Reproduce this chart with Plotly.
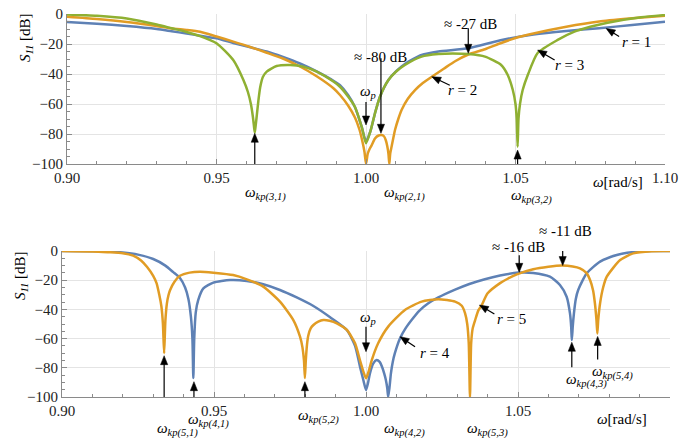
import math
import plotly.graph_objects as go

# ---------------- data ----------------
# top panel: r = 1 (blue)
t1_w = [0.900,0.910,0.920,0.930,0.935,0.940,0.9445,0.950,0.9556,0.9610,0.9668,0.9720,0.9779,0.9835,0.9891,0.9913,0.9940,0.9963,0.9986,1.0000,1.0015,1.0030,1.0047,1.0075,1.0100,1.0130,1.0186,1.0242,1.0342,1.0450,1.0560,1.0670,1.0780,1.0890,1.1000]
t1_db = [-5.3,-6.5,-8.0,-10.0,-11.5,-13.0,-14.5,-16.2,-19.3,-22.0,-25.0,-28.5,-33.0,-38.3,-44.5,-47.5,-54.0,-62.0,-75.5,-85.0,-78.0,-66.2,-55.0,-44.0,-38.3,-33.3,-27.3,-25.0,-22.9,-17.5,-13.7,-11.3,-9.5,-7.3,-5.1]

# top panel: r = 2 (orange)
t2_w = [0.900,0.910,0.920,0.930,0.935,0.940,0.9445,0.950,0.9556,0.9610,0.9668,0.9720,0.9779,0.9835,0.9891,0.9913,0.9940,0.9963,0.9978,0.9988,0.9995,1.0000,1.0006,1.0012,1.0019,1.0030,1.0042,1.0052,1.0060,1.0066,1.0071,1.0075,1.0078,1.0081,1.0086,1.0092,1.0097,1.0108,1.0119,1.0140,1.0164,1.0190,1.0220,1.0260,1.0298,1.0342,1.0398,1.0450,1.0500,1.0560,1.0670,1.0780,1.0890,1.1000]
t2_db = [-1.8,-3.3,-5.3,-8.0,-9.6,-10.6,-11.8,-15.0,-18.4,-21.8,-25.8,-29.5,-35.0,-41.5,-49.5,-54.0,-61.0,-69.0,-77.0,-85.0,-92.0,-100.0,-93.0,-90.0,-87.5,-83.0,-81.0,-80.7,-81.5,-84.0,-88.0,-93.0,-100.0,-93.0,-88.0,-82.0,-77.3,-70.0,-64.0,-56.5,-50.7,-46.0,-41.8,-36.5,-31.5,-27.0,-23.5,-19.5,-16.0,-13.0,-8.5,-5.0,-2.9,-1.1]

# top panel: r = 3 (green)
t3_w = [0.900,0.910,0.920,0.930,0.935,0.940,0.9445,0.950,0.9556,0.9590,0.9605,0.9615,0.9622,0.9626,0.9628,0.9630,0.9634,0.9640,0.9646,0.9655,0.9668,0.9701,0.9746,0.9790,0.9835,0.9891,0.9913,0.9940,0.9963,0.9986,1.0000,1.0015,1.0030,1.0047,1.0075,1.0100,1.0130,1.0186,1.0242,1.0290,1.0342,1.0398,1.0452,1.0474,1.0491,1.0500,1.0504,1.0507,1.0510,1.0515,1.0524,1.0541,1.0574,1.0641,1.0697,1.0750,1.0808,1.0920,1.1000]
t3_db = [-0.3,-1.2,-3.0,-7.0,-9.5,-12.0,-14.8,-19.5,-30.7,-44.0,-52.0,-60.0,-69.0,-76.0,-79.0,-76.0,-69.0,-58.0,-49.0,-42.0,-38.4,-34.7,-34.0,-35.1,-38.4,-45.0,-48.5,-55.0,-62.0,-75.5,-86.2,-78.0,-66.2,-55.0,-44.0,-38.5,-34.0,-28.4,-26.7,-26.3,-26.7,-28.4,-34.0,-40.7,-50.7,-60.0,-70.0,-88.5,-70.0,-60.0,-50.7,-40.7,-26.0,-17.3,-11.8,-8.5,-5.8,-2.2,-0.7]

# bottom panel: r = 4 (blue)
b4_w = [0.900,0.910,0.915,0.920,0.925,0.930,0.934,0.9366,0.9388,0.9405,0.9416,0.9424,0.9429,0.9432,0.9435,0.9440,0.9448,0.9465,0.9498,0.9553,0.9608,0.9662,0.9717,0.9772,0.9827,0.9882,0.9937,0.9964,0.9980,0.9992,1.0000,1.0007,1.0013,1.0024,1.0035,1.0045,1.0052,1.0060,1.0065,1.0070,1.0073,1.0077,1.0082,1.0088,1.0095,1.0112,1.0130,1.0150,1.0175,1.0205,1.0238,1.0293,1.0340,1.0391,1.0441,1.0501,1.0550,1.0605,1.0638,1.0660,1.0671,1.0675,1.0677,1.0680,1.0684,1.0690,1.0698,1.0726,1.0770,1.0825,1.0880,1.0940,1.1000]
b4_db = [0.0,-0.1,-0.4,-1.0,-2.5,-5.5,-10.0,-14.5,-18.5,-25.0,-33.0,-45.0,-60.0,-87.0,-60.0,-42.0,-33.6,-25.6,-21.7,-19.9,-20.5,-22.8,-26.7,-31.8,-37.7,-45.4,-54.1,-65.0,-79.0,-89.0,-95.2,-90.0,-83.8,-77.0,-74.7,-76.0,-79.0,-84.0,-88.0,-94.0,-100.0,-94.0,-83.8,-76.0,-70.0,-59.8,-53.0,-47.3,-41.0,-35.8,-31.8,-26.5,-22.6,-19.3,-16.8,-14.8,-15.0,-17.6,-23.3,-31.3,-42.7,-52.0,-61.0,-52.0,-42.7,-33.0,-26.7,-15.3,-7.3,-2.7,-0.7,0.0,0.0]

# bottom panel: r = 5 (orange)
b5_w = [0.900,0.910,0.915,0.920,0.9234,0.926,0.928,0.9300,0.9311,0.9320,0.9327,0.9332,0.9336,0.9340,0.9345,0.9350,0.9355,0.9370,0.9388,0.9420,0.9454,0.9498,0.9563,0.9608,0.9662,0.9717,0.9761,0.9783,0.9791,0.9796,0.9799,0.9802,0.9806,0.9810,0.9818,0.9827,0.9843,0.9860,0.9880,0.9904,0.9937,0.9964,0.9980,0.9992,1.0000,1.0008,1.0019,1.0040,1.0073,1.0128,1.0183,1.0238,1.0293,1.0315,1.0326,1.0333,1.0338,1.0342,1.0346,1.0351,1.0359,1.0370,1.0381,1.0400,1.0441,1.0466,1.0496,1.0550,1.0600,1.0644,1.0680,1.0704,1.0725,1.0737,1.0747,1.0753,1.0758,1.0761,1.0764,1.0770,1.0780,1.0792,1.0836,1.0879,1.0940,1.1000]
b5_db = [0.0,-0.3,-0.8,-1.5,-3.2,-6.5,-11.0,-17.0,-22.0,-30.0,-38.0,-50.0,-70.0,-48.0,-36.0,-30.5,-27.0,-21.0,-17.0,-14.8,-14.2,-14.9,-16.5,-19.4,-24.4,-34.7,-47.3,-58.7,-66.0,-75.0,-87.0,-75.0,-64.0,-58.0,-53.0,-50.7,-48.3,-47.3,-47.8,-49.5,-54.1,-63.2,-74.7,-83.0,-87.2,-83.0,-74.7,-63.2,-51.8,-40.4,-34.7,-33.0,-34.7,-37.5,-42.7,-50.0,-63.2,-100.0,-63.0,-53.0,-47.3,-40.5,-37.0,-29.0,-22.0,-19.0,-16.0,-12.5,-10.8,-10.0,-10.6,-11.9,-15.0,-19.9,-27.0,-35.8,-47.0,-56.5,-47.0,-35.8,-25.0,-17.6,-6.2,-1.6,-0.1,0.0]

x_ticks = [0.90, 0.95, 1.00, 1.05, 1.10]
x_ticktext = ["0.90", "0.95", "1.00", "1.05", "1.10"]
y_ticks = [0, -20, -40, -60, -80, -100]

# ---------------- figure ----------------
W, H = 682, 438
BLUE, ORANGE, GREEN = "#5E81B5", "#E19C24", "#8FB032"
FONT = "Liberation Serif, Times New Roman, DejaVu Serif, serif"
AXC = "#8a8a8a"

fig = go.Figure()

def add(xs, ys, color, xa, ya):
    fig.add_trace(go.Scatter(x=xs, y=ys, mode="lines", xaxis=xa, yaxis=ya,
                             line=dict(color=color, width=2.5, shape="spline", smoothing=0.6),
                             showlegend=False, hoverinfo="skip"))

add(t1_w, t1_db, BLUE, "x", "y")
add(t2_w, t2_db, ORANGE, "x", "y")
add(t3_w, t3_db, GREEN, "x", "y")
add(b4_w, b4_db, BLUE, "x2", "y2")
add(b5_w, b5_db, ORANGE, "x2", "y2")

def xax(dom, anchor):
    return dict(domain=dom, anchor=anchor, range=[0.9, 1.1], tickvals=x_ticks, ticktext=x_ticktext,
                automargin=False,
                showgrid=True, gridcolor="#e4e4e4", gridwidth=1, zeroline=False,
                showline=True, linecolor=AXC, linewidth=1,
                ticks="inside", ticklen=5, tickcolor=AXC,
                minor=dict(dtick=0.01, ticks="inside", ticklen=3, tickcolor=AXC, showgrid=False),
                tickfont=dict(family=FONT, size=15, color="#222"))

def yax(dom, anchor):
    return dict(domain=dom, anchor=anchor, range=[-100, 0], tickvals=y_ticks,
                automargin=False,
                showgrid=True, gridcolor="#e4e4e4", gridwidth=1, zeroline=False,
                showline=True, linecolor=AXC, linewidth=1,
                ticks="inside", ticklen=5, tickcolor=AXC,
                minor=dict(dtick=5, ticks="inside", ticklen=3, tickcolor=AXC, showgrid=False),
                tickfont=dict(family=FONT, size=15, color="#222"))

fig.update_layout(
    width=W, height=H, margin=dict(l=0, r=0, t=0, b=0, autoexpand=False),
    paper_bgcolor="white", plot_bgcolor="white",
    xaxis=xax([67 / W, 665 / W], "y"),
    yaxis=yax([1 - 164 / H, 1 - 14 / H], "x"),
    xaxis2=xax([62 / W, 670 / W], "y2"),
    yaxis2=yax([1 - 397 / H, 1 - 251 / H], "x2"),
)

shapes = []
anns = []

def arrow(x, y, ax, ay, xa="x", ya="y"):
    """Arrow whose tip is at data point (x, y); tail offset (ax, ay) in pixels (ay downward)."""
    dx, dy = ax, -ay                      # pixel offsets, y upward
    L = math.hypot(dx, dy)
    ux, uy = dx / L, dy / L
    hl, hw = 9.0, 3.6                     # head length, half width
    bx, by = ux * hl, uy * hl
    px_, py_ = -uy * hw, ux * hw
    shapes.append(dict(type="line", xref=xa, yref=ya, xsizemode="pixel", ysizemode="pixel",
                       xanchor=x, yanchor=y, x0=bx * 0.8, y0=by * 0.8, x1=dx, y1=dy,
                       line=dict(color="black", width=1.2)))
    path = "M 0 0 L {:.2f} {:.2f} L {:.2f} {:.2f} Z".format(bx + px_, by + py_, bx - px_, by - py_)
    shapes.append(dict(type="path", xref=xa, yref=ya, xsizemode="pixel", ysizemode="pixel",
                       xanchor=x, yanchor=y, path=path, fillcolor="black",
                       line=dict(color="black", width=0.5)))

def label(text, px, py, size=15, angle=0):
    anns.append(dict(x=px / W, y=1 - py / H, xref="paper", yref="paper", text=text,
                     showarrow=False, xanchor="center", yanchor="middle", textangle=angle,
                     font=dict(family=FONT, size=size, color="black")))

def wsub(s):
    return "<i>ω<sub>" + s + "</sub></i>"

# top panel arrows
arrow(0.9628, -79.5, 0, 53)
arrow(1.0000, -74.0, 0, -23)
arrow(1.0050, -79.5, 0, -75)
arrow(1.0078, -100.0, 0, 26)
arrow(1.0342, -26.2, 0, -25)
arrow(1.0220, -41.8, 18, 8.5)
arrow(1.0574, -24.0, 17, 10)
arrow(1.0803, -9.6, 13, 8)
arrow(1.0507, -90.7, 0, 40)

# top panel labels
label(wsub("kp(3,1)"), 265, 194)
label(wsub("p"), 368, 92)
label("≈ -80 dB", 381, 57)
label(wsub("kp(2,1)"), 404, 194)
label("≈ -27 dB", 470, 24)
label("<i>r</i> = 2", 463, 90)
label("<i>r</i> = 3", 569, 65)
label("<i>r</i> = 1", 636, 42)
label(wsub("kp(3,2)"), 531, 197)
label("<i>ω</i>[rad/s]", 618, 182)
label("<i>S<sub>11</sub></i> [dB]", 26, 38, angle=-90)

# bottom panel arrows
arrow(0.9336, -71.7, 0, 63, "x2", "y2")
arrow(0.9434, -89.5, 0, 27, "x2", "y2")
arrow(0.9799, -89.5, 0, 24, "x2", "y2")
arrow(1.0000, -69.0, 0, -25, "x2", "y2")
arrow(1.0112, -58.7, 15, 10, "x2", "y2")
arrow(1.0073, -100.5, 0, 24, "x2", "y2")
arrow(1.0342, -100.5, 0, 24, "x2", "y2")
arrow(1.0373, -37.0, 15, 9, "x2", "y2")
arrow(1.0504, -14.6, 0, -17, "x2", "y2")
arrow(1.0647, -10.0, 0, -28, "x2", "y2")
arrow(1.0677, -62.5, 0, 25, "x2", "y2")
arrow(1.0762, -58.5, 0, 23, "x2", "y2")

# bottom panel labels
label(wsub("kp(5,1)"), 177, 429)
label(wsub("kp(4,1)"), 208, 420)
label(wsub("kp(5,2)"), 318, 416)
label(wsub("p"), 368, 318)
label("<i>r</i> = 4", 435, 353)
label(wsub("kp(4,2)"), 404, 429)
label(wsub("kp(5,3)"), 487, 429)
label("<i>r</i> = 5", 511, 319)
label("≈ -16 dB", 518, 247)
label("≈ -11 dB", 565, 231)
label(wsub("kp(4,3)"), 586, 380)
label(wsub("kp(5,4)"), 612, 372)
label("<i>ω</i>[rad/s]", 622, 419)
label("<i>S<sub>11</sub></i> [dB]", 21, 276, angle=-90)

fig.update_layout(annotations=anns, shapes=shapes)

fig.write_html("out.html", config={"displayModeBar": False},
               post_script="document.body.style.margin='0px';document.body.style.padding='0px';")
